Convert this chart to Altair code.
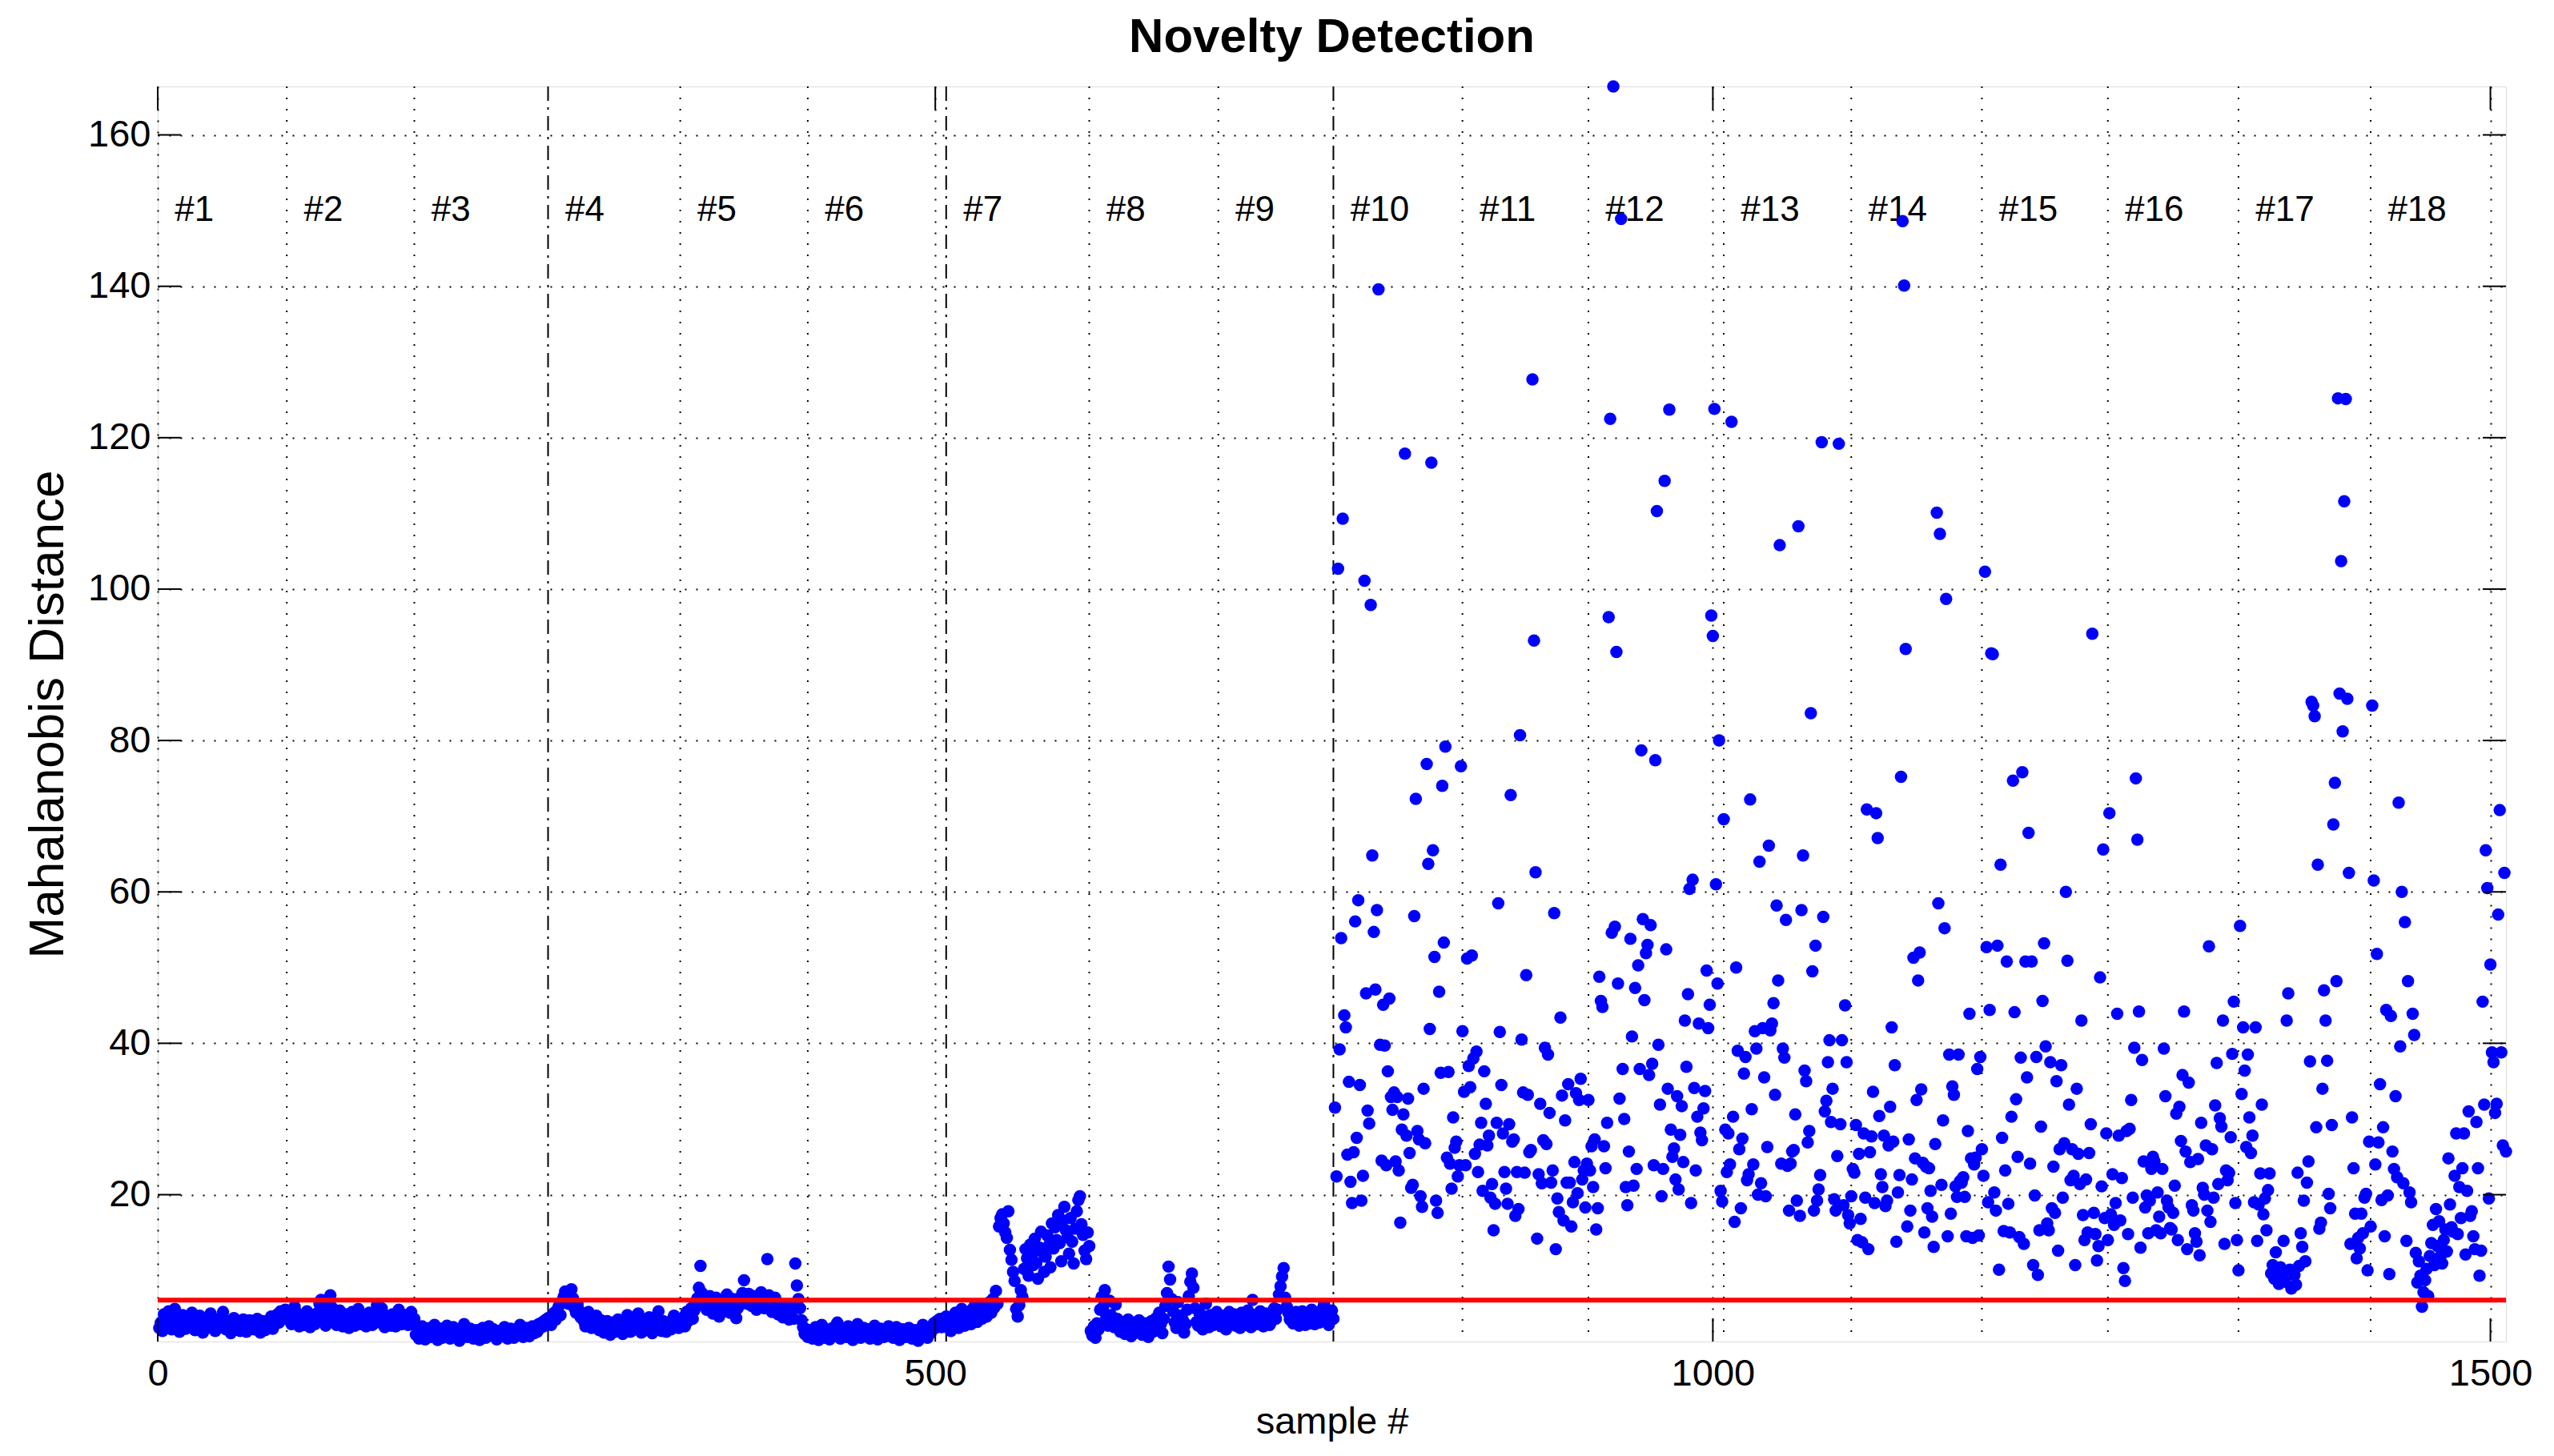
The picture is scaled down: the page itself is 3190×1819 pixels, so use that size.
import altair as alt
import pandas as pd

# ---------------- data ----------------
seg01 = [2.4, 3.1, 2.0, 4.2, 3.5, 2.7, 4.6, 3.0, 2.2, 3.8,
         4.9, 3.3, 2.6, 1.9, 3.6, 4.1, 2.8, 2.3, 3.9, 3.2,
         2.5, 4.4, 3.7, 2.1, 2.9, 3.4, 4.0, 2.6, 1.8, 3.1,
         3.6, 2.4, 2.9, 4.3, 3.2, 2.7, 2.0, 3.5, 3.0, 2.5,
         3.8, 4.5, 2.8, 2.2, 3.3, 2.6, 1.7, 3.0, 3.7, 2.9,
         2.4, 3.2, 2.0, 2.7, 3.5, 2.3, 1.9, 2.8, 3.4, 2.5,
         3.1, 2.2, 2.9, 3.6, 2.4, 1.8, 2.6, 3.3, 2.1, 2.7,
         3.0, 2.5, 3.9, 2.3, 2.8, 3.5, 4.2, 3.1, 4.6, 3.8,
         4.0, 4.8, 3.6]
seg02 = [3.5, 4.2, 2.9, 3.8, 5.2, 4.5, 3.1, 2.6, 4.0, 3.4,
         2.8, 3.9, 4.6, 3.3, 2.5, 3.7, 4.1, 2.9, 3.2, 4.4,
         5.6, 6.1, 4.8, 3.6, 2.7, 4.3, 5.9, 6.7, 5.1, 4.0,
         3.4, 2.8, 3.9, 4.7, 3.2, 2.6, 3.5, 4.2, 3.0, 2.4,
         3.8, 4.5, 3.1, 2.7, 3.6, 4.9, 3.3, 2.9, 4.1, 3.5,
         2.6, 3.2, 4.4, 3.8, 2.8, 3.4, 4.6, 5.4, 4.0, 3.1,
         5.0, 4.3, 2.5, 3.7, 3.0, 3.6, 2.7, 4.2, 3.3, 2.6,
         3.9, 4.8, 3.5, 2.9, 3.2, 4.1, 3.7, 2.8, 3.4, 4.5,
         2.9, 3.6]
seg03 = [1.5, 2.2, 1.0, 1.8, 2.6, 1.3, 0.9, 2.0, 1.6, 2.4,
         1.2, 1.9, 2.8, 1.4, 0.8, 1.7, 2.3, 1.1, 1.5, 2.0,
         2.7, 1.6, 1.0, 1.9, 2.5, 1.3, 1.8, 2.2, 0.7, 1.4,
         2.0, 2.9, 1.7, 1.2, 1.6, 2.3, 1.9, 1.0, 1.5, 2.1,
         1.3, 0.8, 1.8, 2.4, 1.6, 1.1, 2.0, 2.6, 1.4, 1.7,
         2.2, 1.2, 0.9, 1.5, 2.0, 1.8, 1.3, 2.5, 1.6, 1.0,
         1.9, 2.3, 1.4, 1.1, 1.7, 2.1, 1.5, 2.8, 1.9, 1.2,
         1.6, 2.4, 1.8, 1.3, 2.0, 2.6, 1.7, 2.2, 1.9, 2.9,
         2.4, 3.1, 2.6, 3.4, 2.9, 3.7]
seg04 = [3.2, 2.8, 3.9, 4.4, 3.5, 4.8, 5.3, 4.1, 5.9, 6.5,
         7.2, 6.8, 5.6, 6.1, 7.5, 6.3, 5.0, 4.4, 5.5, 4.7,
         3.8, 4.2, 3.3, 2.6, 3.7, 4.5, 3.1, 2.4, 2.9, 3.6,
         4.0, 2.7, 2.1, 3.4, 2.5, 1.8, 2.8, 3.3, 2.2, 1.5,
         2.6, 3.1, 1.9, 2.4, 3.5, 2.0, 2.7, 1.6, 2.3, 3.0,
         4.1, 2.6, 1.9, 2.8, 3.7, 2.2, 3.2, 4.3, 2.5, 1.8,
         2.9, 3.4, 2.1, 2.7, 3.8, 2.4, 1.7, 3.0, 2.3, 3.6,
         4.6, 2.8, 2.0, 3.3, 2.6, 1.9, 2.5, 3.1, 2.2, 3.5,
         4.0, 2.9, 3.2, 2.4, 3.0]
seg05 = [3.0, 3.8, 2.6, 4.5, 3.3, 4.1, 5.0, 3.6, 4.7, 5.8,
         6.3, 7.7, 10.6, 7.0, 5.4, 6.1, 4.8, 5.6, 6.6, 5.2,
         4.3, 5.9, 6.4, 4.9, 3.9, 5.3, 6.0, 4.6, 5.7, 6.8,
         5.1, 4.4, 5.5, 6.2, 4.7, 3.7, 5.0, 5.8, 6.5, 7.0,
         8.7, 6.4, 5.6, 6.9, 6.1, 5.3, 6.6, 5.9, 4.8, 5.4,
         6.3, 7.1, 5.7, 5.0, 6.0, 11.5, 6.7, 5.5, 4.5, 5.8,
         6.4, 5.1, 4.2, 5.6, 4.9, 3.8, 4.6, 5.3, 4.0, 3.5,
         4.4, 5.0, 3.6, 10.9, 8.0, 6.2, 5.0, 3.4, 2.5, 1.6,
         2.2, 1.2]
seg06 = [1.4, 2.1, 1.0, 1.7, 2.5, 1.2, 0.8, 1.9, 2.8, 1.5,
         1.1, 2.2, 1.6, 0.9, 1.8, 2.4, 1.3, 2.0, 3.1, 1.7,
         1.0, 1.5, 2.3, 1.8, 1.2, 2.6, 1.9, 1.4, 0.8, 1.6,
         2.1, 2.9, 1.5, 1.1, 1.8, 2.4, 1.3, 1.7, 2.2, 1.0,
         1.6, 2.0, 2.7, 1.4, 0.9, 1.9, 2.3, 1.5, 1.2, 2.1,
         1.7, 2.6, 1.3, 1.8, 1.1, 2.0, 2.5, 1.6, 0.8, 1.4,
         2.2, 1.9, 1.2, 1.7, 2.4, 1.5, 1.0, 1.8, 2.1, 1.3,
         0.7, 1.6, 2.0, 2.8, 1.4, 1.9, 1.1, 2.3, 1.7, 2.6,
         3.0, 2.4, 3.3, 2.8, 3.6, 2.5, 3.2, 2.7, 3.9]
seg07 = [2.6, 3.4, 2.0, 3.9, 2.8, 4.4, 3.1, 2.4, 3.7, 4.9, 3.3, 2.7, 4.1,
         3.5, 4.6, 2.9, 3.8, 5.2, 4.0, 3.2, 4.7, 5.5, 3.6,
         4.3, 5.0, 3.9, 4.8, 5.8, 4.4, 6.2, 5.1, 7.3, 5.6,
         15.8, 16.9, 17.4, 16.2, 15.0, 14.3, 17.8, 12.7, 11.4, 9.8,
         8.6, 4.9, 3.9, 5.4, 7.4,
         6.5, 10.2, 12.8, 11.6, 9.3, 13.4, 12.1, 10.7, 14.2, 11.0,
         8.9, 13.0, 15.1, 12.4, 9.8, 11.8, 14.6, 13.3, 10.4, 16.2,
         12.9, 15.7, 14.0, 17.3, 13.6, 11.2, 16.6, 18.4, 15.3, 14.4,
         12.2, 16.9, 13.8, 10.9, 15.5, 17.8, 19.3, 19.8, 16.1, 14.7,
         12.6, 11.5, 15.0, 13.2]
seg08 = [2.0, 1.4, 2.6, 1.1, 3.0, 2.2, 4.8, 6.5, 5.2, 7.4,
         3.8, 2.7, 6.0, 4.1, 3.3, 2.5, 5.5, 3.6, 2.8, 1.9,
         3.2, 2.4, 1.6, 2.9, 3.5, 2.1, 1.3, 2.7, 3.1, 1.8,
         2.3, 3.4, 2.0, 1.5, 2.6, 3.0, 2.2, 1.2, 2.8, 3.3,
         1.9, 2.5, 3.7, 2.1, 4.4, 2.9, 1.7, 3.6, 5.3, 7.0,
         10.5, 8.8, 6.2, 4.6, 3.1, 2.4, 5.8, 4.0, 2.6, 3.5,
         1.8, 2.9, 4.8, 6.6, 8.5, 9.6, 7.7, 5.0, 3.2, 2.7,
         4.3, 3.6, 2.2, 3.9, 5.6, 3.0, 2.5, 4.1, 3.4, 2.8,
         3.7, 4.5, 3.2]
seg09 = [3.3, 2.6, 4.0, 3.1, 2.2, 3.7, 4.5, 2.9, 3.5, 4.2,
         2.7, 3.9, 3.2, 2.4, 4.4, 3.6, 2.8, 3.3, 4.7, 3.0,
         2.5, 6.1, 4.1, 3.4, 2.9, 3.8, 4.6, 3.1, 2.6, 3.5,
         4.3, 3.7, 2.8, 3.2, 4.0, 5.0, 3.6, 4.8, 6.8, 7.9,
         9.2, 10.3, 6.4, 5.2, 4.4, 3.5, 4.1, 3.0, 3.7, 4.5,
         3.3, 2.7, 3.9, 4.6, 3.2, 2.8, 4.2, 3.6, 3.0, 4.8,
         3.4, 2.9, 3.8, 4.4, 3.1, 3.7, 4.9, 5.5, 4.0, 3.4,
         2.8, 3.9, 4.7, 3.6]
seg10 = [31.5, 22.4, 102.7, 39.2, 53.9, 109.3, 43.7, 42.1, 25.3, 34.9,
         21.7, 18.9, 25.6, 56.1, 27.5, 58.9, 34.5, 19.2, 22.5, 101.1,
         46.6, 31.1, 29.4, 97.9, 64.8, 54.7, 47.1, 57.6, 139.6, 39.8,
         24.5, 45.1, 39.7, 23.9, 36.3, 45.9, 32.9, 31.2, 33.5, 24.4,
         32.9, 23.2, 16.3, 28.6, 30.6, 117.9, 27.8, 32.7, 25.5, 20.9,
         21.3, 56.8, 72.3, 28.4, 27.3, 19.8, 18.4, 34.0, 26.8, 76.9,
         63.7, 41.9, 116.7, 65.5, 51.4, 19.2, 17.6, 46.8, 36.1, 74.0,
         53.3, 79.2, 24.9, 36.2, 24.1, 20.8, 30.2, 26.2, 27.0, 22.4,
         23.9, 76.6, 41.6]
seg11 = [33.6, 23.9, 51.2, 37.0, 34.2, 51.6, 38.0, 25.4, 38.9, 23.0,
         26.6, 29.5, 20.5, 36.3, 32.0, 26.5, 27.8, 19.6, 21.4, 15.3,
         18.8, 29.5, 58.5, 41.5, 34.5, 28.1, 23.0, 20.8, 18.8, 29.3,
         72.8, 27.0, 27.3, 17.2, 23.0, 18.1, 80.7, 40.5, 33.5, 22.9,
         49.0, 33.2, 25.6, 25.9, 127.7, 93.2, 62.6, 14.2, 22.7, 32.0,
         21.5, 27.2, 39.4, 26.7, 38.5, 30.8, 21.6, 23.2, 57.2, 12.8,
         19.5, 17.7, 43.4, 33.1, 16.6, 29.8, 21.6, 34.6, 21.6, 15.8,
         19.0, 24.3, 33.4, 20.2, 32.5, 35.3, 22.0, 23.2, 18.3, 24.1,
         32.5]
seg12 = [23.2, 26.4, 21.0, 27.3, 15.4, 18.2, 48.8, 45.6, 44.8, 26.4,
         23.5, 29.5, 96.3, 122.5, 54.6, 166.4, 55.4, 91.7, 47.9, 32.7,
         148.9, 36.6, 30.0, 21.0, 18.6, 25.7, 53.8, 40.9, 21.2, 47.3,
         23.4, 50.3, 36.6, 78.7, 56.4, 45.7, 51.9, 53.0, 35.8, 55.6,
         37.3, 23.9, 77.4, 110.3, 39.8, 31.9, 19.8, 23.4, 114.3, 52.4,
         34.0, 123.7, 28.6, 25.0, 26.1, 22.0, 33.0, 20.7, 27.9, 31.7,
         24.3, 43.0, 36.9, 46.5, 60.4, 18.9, 61.6, 34.1, 23.2, 30.3,
         42.6, 28.2, 27.2, 31.4, 33.7, 49.6, 42.0, 45.1, 96.5, 93.8,
         123.8, 61.0, 47.9, 80.0, 20.5, 19.1, 69.6]
seg13 = [28.6, 23.0, 28.1, 24.0, 122.1, 30.3, 16.4, 50.0, 39.0, 26.0,
         18.2, 27.4, 36.0, 38.2, 21.9, 22.7, 72.2, 31.3, 24.0, 41.6,
         39.3, 20.0, 64.0, 21.5, 42.0, 35.5, 19.8, 26.3, 66.1, 41.7,
         42.6, 45.3, 33.2, 58.2, 48.3, 105.8, 24.1, 39.3, 38.1, 56.3,
         23.8, 17.9, 24.1, 25.7, 25.9, 30.6, 19.2, 108.3, 17.2, 57.6,
         64.8, 36.4, 35.0, 26.9, 28.4, 83.6, 49.5, 17.9, 52.9, 19.2,
         20.7, 22.6, 119.4, 56.7, 31.0, 32.4, 37.5, 40.4, 29.6, 34.0,
         19.4, 17.9, 25.1, 119.2, 29.3, 40.4, 18.6, 45.0, 37.5, 17.3,
         16.2, 19.8]
seg14 = [23.4, 22.9, 29.2, 14.0, 25.4, 16.8, 13.7, 28.1, 19.6, 70.9,
         12.8, 25.6, 27.7, 33.6, 18.9, 70.4, 67.1, 30.4, 22.7, 21.0,
         27.8, 18.5, 19.2, 26.5, 31.6, 42.1, 27.0, 37.1, 13.8, 20.3,
         22.6, 75.2, 148.6, 140.1, 92.1, 15.8, 27.3, 17.9, 22.0, 51.3,
         24.8, 32.5, 48.3, 52.0, 33.9, 24.2, 15.0, 23.7, 18.2, 23.5,
         20.5, 17.1, 13.1, 26.7, 110.1, 58.5, 107.3, 21.3, 29.8, 55.2,
         98.7, 14.5, 38.5, 17.5, 34.3, 33.2, 21.1, 19.7, 38.5, 21.8,
         21.6, 22.3, 19.7, 14.5, 28.4, 43.9, 24.8, 14.3, 24.0, 24.9,
         36.6, 14.6, 38.2, 26.0]
seg15 = [22.5, 102.3, 52.7, 19.0, 44.4, 91.5, 91.4, 20.3, 17.9, 52.9,
         10.1, 63.6, 27.5, 15.2, 23.2, 50.8, 18.8, 15.0, 30.3, 74.7,
         44.1, 32.6, 25.0, 14.4, 38.1, 75.8, 13.5, 50.8, 35.5, 67.8,
         24.1, 50.8, 10.7, 19.9, 38.2, 9.4, 15.3, 29.0, 45.6, 53.2,
         39.6, 16.2, 15.3, 37.5, 18.2, 23.7, 17.6, 35.0, 12.6, 26.0,
         37.1, 19.6, 26.8, 60.0, 50.9, 31.9, 21.9, 26.0, 22.5, 10.7,
         34.0, 25.4, 21.4, 43.0, 17.3, 14.0, 22.0, 15.0, 25.5, 29.3,
         94.1, 17.6, 14.8, 11.3, 13.2, 48.7, 21.1, 65.6, 16.9, 28.1,
         14.0]
seg16 = [70.4, 17.4, 22.7, 16.0, 18.9, 43.9, 27.8, 16.6, 22.2, 10.3,
         8.6, 28.4, 14.8, 28.7, 32.5, 19.6, 39.4, 75.0, 66.9, 44.2,
         13.0, 37.8, 24.4, 18.3, 19.9, 14.9, 19.2, 23.4, 25.0, 24.4,
         15.3, 20.3, 17.1, 14.9, 23.4, 39.3, 33.0, 19.2, 18.3, 15.6,
         15.4, 17.6, 21.2, 30.7, 14.0, 31.6, 27.1, 35.8, 44.2, 25.7,
         12.8, 34.8, 24.3, 18.6, 17.9, 14.9, 13.8, 24.7, 12.0, 29.5,
         20.9, 20.0, 26.5, 17.9, 52.8, 16.4, 26.0, 19.6, 31.8, 37.4,
         21.4, 30.1, 29.0, 43.0, 13.5, 23.2, 21.9, 22.9, 27.6, 38.6,
         45.5, 18.9, 14.0, 10.0]
seg17 = [55.5, 33.3, 42.1, 36.4, 26.3, 38.5, 30.2, 25.5, 27.8, 19.0,
         42.1, 13.9, 18.7, 22.8, 31.9, 17.4, 19.5, 15.3, 20.6, 22.8,
         9.6, 10.7, 8.9, 12.4, 9.9, 8.2, 10.4, 9.1, 13.9, 8.5,
         43.0, 46.6, 10.1, 7.6, 9.8, 9.4, 8.1, 22.9, 10.6, 14.9,
         13.1, 19.2, 11.2, 21.6, 24.4, 37.6, 85.1, 84.6, 83.2, 28.9,
         63.6, 15.5, 16.3, 34.0, 47.0, 43.0, 37.7, 20.1, 18.2, 29.2,
         68.9, 74.4, 48.2, 125.2, 86.2, 103.7, 81.2, 111.6, 125.1, 85.5,
         62.5, 13.5, 30.2, 23.5, 17.5, 11.6, 14.3, 12.9, 17.5, 14.9,
         19.6, 20.1, 10.0, 27.0, 15.8]
seg18 = [84.6, 61.5, 24.0, 51.8, 26.9, 34.6, 19.3, 28.9, 14.5, 44.4,
         19.9, 9.5, 43.6, 25.7, 23.4, 33.0, 22.3, 71.8, 39.6, 60.0,
         21.5, 56.0, 13.9, 48.2, 20.3, 19.0, 43.9, 41.1, 12.3, 8.4,
         11.2, 9.3, 5.2, 7.1, 8.7, 10.2, 6.6, 11.9, 13.6, 16.0,
         10.7, 18.1, 13.2, 16.5, 11.9, 10.9, 14.0, 15.4, 12.5, 24.8,
         18.7, 15.7, 15.1, 22.5, 28.1, 14.8, 21.0, 16.9, 23.5, 28.1,
         12.1, 20.5, 31.0, 17.2, 17.8, 14.5, 12.8, 29.6, 23.5, 9.3,
         12.6, 45.5, 31.9, 65.5, 60.5, 19.5, 50.4, 38.8, 37.5, 30.8,
         32.0, 57.0, 70.8, 38.8, 26.5, 62.5, 25.7]

segments = [seg01, seg02, seg03, seg04, seg05, seg06, seg07, seg08, seg09,
            seg10, seg11, seg12, seg13, seg14, seg15, seg16, seg17, seg18]
segment_names = ["#%d" % (i + 1) for i in range(18)]
boundaries = [83, 165, 251, 336, 418, 507, 599, 682, 756,
              839, 920, 1007, 1089, 1173, 1254, 1338, 1423]
dashdot_boundaries = [251, 507, 756]
threshold = 6.07
x_ticks = [0, 500, 1000, 1500]
y_ticks = [20, 40, 60, 80, 100, 120, 140, 160]
x_domain = [0, 1510]
y_domain = [0.6, 166.4]
label_y = 150
label_shift = 11

# ---------------- tables ----------------
values = [v for s in segments for v in s]
df = pd.DataFrame({"sample": list(range(1, len(values) + 1)), "distance": values})
starts = [0] + boundaries
lab_df = pd.DataFrame({"name": segment_names,
                       "lx": [s + label_shift for s in starts],
                       "ly": [label_y] * len(segment_names)})
dotted_df = pd.DataFrame({"b": [b for b in boundaries if b not in dashdot_boundaries]})
dashdot_df = pd.DataFrame({"b": dashdot_boundaries})
thr_df = pd.DataFrame({"t": [threshold]})
ytick_df = pd.DataFrame({"v": y_ticks})
xtick_df = pd.DataFrame({"v": x_ticks})

W, H = 2933, 1568
FONT = "Liberation Sans"
TICK = 29

xs = alt.Scale(domain=x_domain, nice=False, zero=False)
ys = alt.Scale(domain=y_domain, nice=False, zero=False)

x_axis = alt.Axis(values=x_ticks, title="sample #", grid=True, ticks=False, domain=False,
                  format="d",
                  labelFont=FONT, labelFontSize=47, labelColor="black", labelPadding=17,
                  labelFlush=False, labelOverlap=False,
                  titleFont=FONT, titleFontSize=47, titleFontWeight="normal",
                  titleColor="black", titlePadding=14,
                  gridColor="black", gridOpacity=1, gridWidth=2, gridDash=[2, 12])
y_axis = alt.Axis(values=y_ticks, title="Mahalanobis Distance", grid=True, ticks=False, domain=False,
                  format="d",
                  labelFont=FONT, labelFontSize=47, labelColor="black", labelPadding=9,
                  labelFlush=False, labelOverlap=False,
                  titleFont=FONT, titleFontSize=62, titleFontWeight="normal",
                  titleColor="black", titlePadding=18,
                  gridColor="black", gridOpacity=1, gridWidth=2, gridDash=[2, 12])


def X(field):
    return alt.X(field, scale=xs, axis=x_axis)


def Y(field):
    return alt.Y(field, scale=ys, axis=y_axis)


points = alt.Chart(df).mark_circle(size=240, color="#0000ff", opacity=1).encode(
    x=X("sample:Q"), y=Y("distance:Q"))

dotted = alt.Chart(dotted_df).mark_rule(color="black", strokeWidth=2, strokeDash=[2, 12]).encode(
    x=X("b:Q"))
dashdot = alt.Chart(dashdot_df).mark_rule(color="black", strokeWidth=2, strokeDash=[18, 8, 3, 8]).encode(
    x=X("b:Q"))

labels = alt.Chart(lab_df).mark_text(align="left", baseline="middle", font=FONT, fontSize=44,
                                     color="black").encode(
    x=X("lx:Q"), y=Y("ly:Q"), text="name:N")

red = alt.Chart(thr_df).mark_rule(color="#ff0000", strokeWidth=6).encode(y=Y("t:Q"))

ytick_l = alt.Chart(ytick_df).mark_rule(color="black", strokeWidth=2).encode(
    y=Y("v:Q"), x=alt.value(0), x2=alt.value(TICK))
ytick_r = alt.Chart(ytick_df).mark_rule(color="black", strokeWidth=2).encode(
    y=Y("v:Q"), x=alt.value(W - TICK), x2=alt.value(W))
xtick_b = alt.Chart(xtick_df).mark_rule(color="black", strokeWidth=2).encode(
    x=X("v:Q"), y=alt.value(H - TICK), y2=alt.value(H))
xtick_t = alt.Chart(xtick_df).mark_rule(color="black", strokeWidth=2).encode(
    x=X("v:Q"), y=alt.value(0), y2=alt.value(TICK))

chart = alt.layer(points, dotted, dashdot, labels, red, ytick_l, ytick_r, xtick_b, xtick_t).properties(
    width=W, height=H,
    title=alt.TitleParams(text="Novelty Detection", font=FONT, fontSize=60, fontWeight="bold",
                          color="black", anchor="middle", offset=22),
    padding={"left": 189, "top": 100, "right": 45, "bottom": 130},
    autosize=alt.AutoSizeParams(type="none"),
).configure_view(stroke="black", strokeWidth=2).configure(background="white")

# keep labels beneath the points while the points layer defines the axes
spec = chart.to_dict()
layers = spec["layer"]
spec["layer"] = [layers[1], layers[2], layers[3], layers[0]] + layers[4:]
chart = alt.LayerChart.from_dict(spec)

chart.save("out.html", embed_options={"renderer": "svg", "actions": False})
